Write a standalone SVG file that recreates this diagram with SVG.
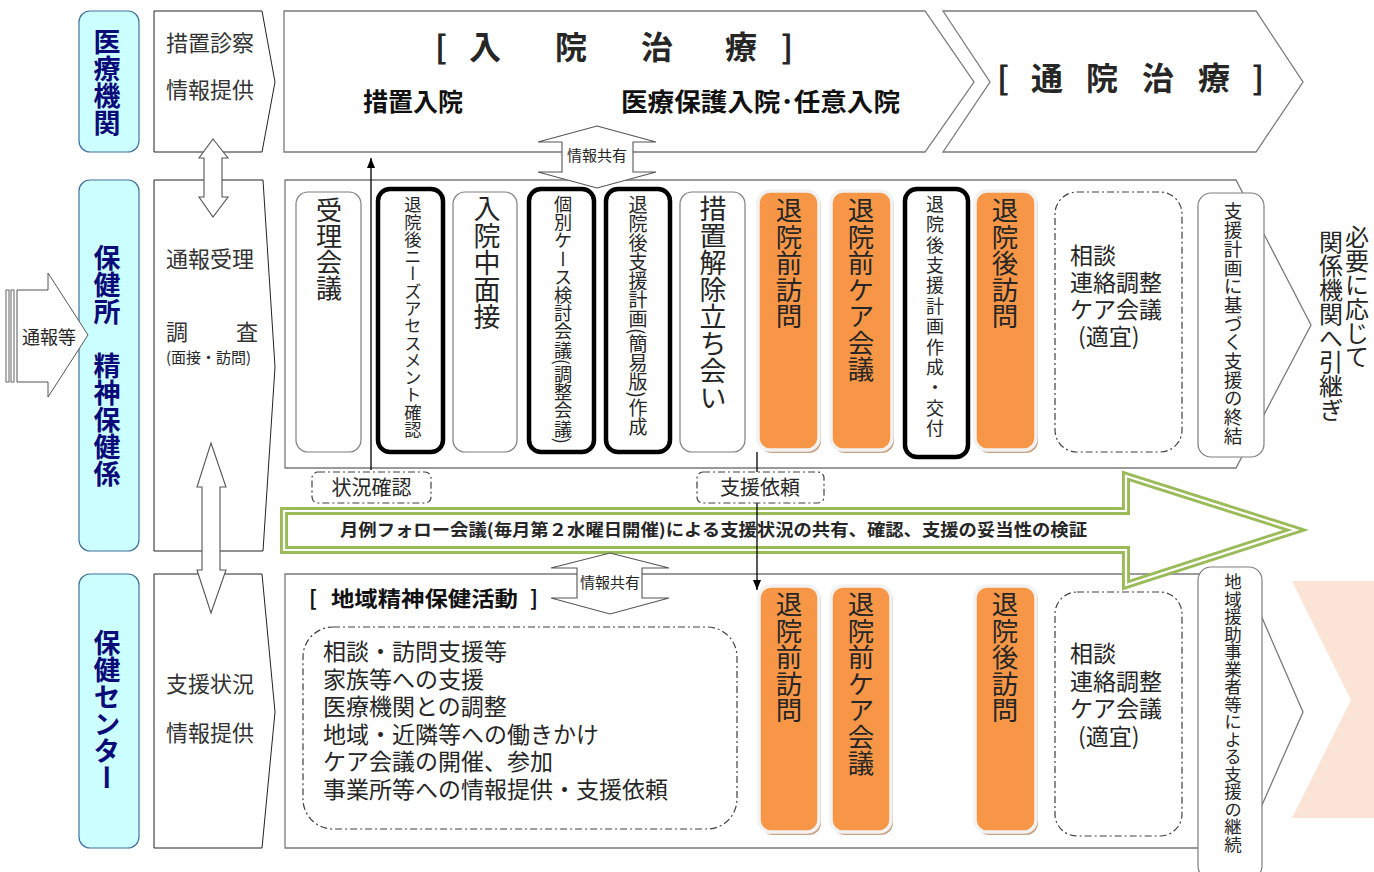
<svg xmlns="http://www.w3.org/2000/svg" width="1374" height="872" viewBox="0 0 1374 872">
<style>
text{font-family:"Noto Sans CJK JP","Noto Sans",sans-serif;fill:#262626}
.v{writing-mode:vertical-rl}
.blue{fill:#ccffff;stroke:#41719c;stroke-width:1.2}
.bl{fill:#0a0a78;font-weight:700;font-size:27px}
.col{fill:#fff;stroke:#222;stroke-width:1}
.main{fill:#fff;stroke:#7a7a7a;stroke-width:1.3}
.thin{fill:#fff;stroke:#7f7f7f;stroke-width:1.2}
.thick{fill:#fff;stroke:#000;stroke-width:4.5}
.or{fill:#f79646;stroke:#f2f2f2;stroke-width:3.5}
.sh{fill:#c9a385}
.dd{fill:#fff;stroke:#404040;stroke-width:1.2;stroke-dasharray:7 3 2 3}
.dblarrow{fill:#fff;stroke:#555;stroke-width:1.1}
.b{font-weight:700;fill:#111}
.c2{font-size:22px;fill:#333}
</style>
<defs>
<marker id="ah" markerWidth="10" markerHeight="8" refX="10" refY="4" orient="auto" markerUnits="userSpaceOnUse" viewBox="0 0 10 8">
<path d="M0,0 L10,4 L0,8 Z" fill="#000"/>
</marker>
</defs>

<!-- peach background chevron -->
<polygon points="1292,581 1374,581 1374,818 1292,818 1351,700" fill="#fbe4d6"/>

<!-- left labels -->
<g id="n-iryo">
<rect class="blue" x="79" y="11" width="60" height="141" rx="11"/>
<text class="v bl" x="107" y="28">医療機関</text>
</g>
<g id="n-hokenjo">
<rect class="blue" x="79" y="180" width="60" height="371" rx="11"/>
<text class="v bl" x="107" y="244">保健所　精神保健係</text>
</g>
<g id="n-center">
<rect class="blue" x="79" y="574" width="60" height="274" rx="11"/>
<text class="v bl" x="107" y="629">保健センター</text>
</g>

<!-- tsuho arrow -->
<g id="n-tsuho">
<rect x="6" y="290" width="3" height="92" fill="#fff" stroke="#555" stroke-width="0.9"/>
<rect x="11" y="290" width="3" height="92" fill="#fff" stroke="#555" stroke-width="0.9"/>
<polygon points="17,290 48,290 48,273 88,335 48,397 48,382 17,382" fill="#fff" stroke="#555" stroke-width="1"/>
<text x="22" y="344" font-size="18">通報等</text>
</g>

<!-- column 2 -->
<g id="n-col-top">
<polygon class="col" points="154,11 262,11 275,82 262,152 154,152"/>
<text class="c2" x="166" y="51">措置診察</text>
<text class="c2" x="166" y="98">情報提供</text>
</g>
<g id="n-col-mid">
<polygon class="col" points="154,180 263,180 275,367 263,551 154,551"/>
<text class="c2" x="166" y="267">通報受理</text>
<text class="c2" x="166" y="340">調</text>
<text class="c2" x="258" y="340" text-anchor="end">査</text>
<text x="166" y="363" font-size="15" fill="#333">(面接・訪問)</text>
</g>
<g id="n-col-bot">
<polygon class="col" points="154,574 262,574 275,712 262,848 154,848"/>
<text class="c2" x="166" y="692">支援状況</text>
<text class="c2" x="166" y="741">情報提供</text>
</g>

<!-- top row -->
<g id="n-nyuin">
<polygon class="main" points="284,11 925,11 974,82 925,152 284,152"/>
<g class="b" font-size="32" text-anchor="middle">
<text x="441" y="59">[</text>
<text x="485" y="59">入</text>
<text x="571" y="59">院</text>
<text x="657" y="59">治</text>
<text x="741" y="59">療</text>
<text x="787" y="59">]</text>
</g>
<text class="b" x="363" y="111" font-size="25">措置入院</text>
<text class="b" x="621" y="111" font-size="25" textLength="279" lengthAdjust="spacingAndGlyphs">医療保護入院･任意入院</text>
</g>
<g id="n-tsuin">
<polygon class="main" points="943,11 1256,11 1303,82 1256,152 943,152 990,82"/>
<g class="b" font-size="32" text-anchor="middle">
<text x="1003" y="90">[</text>
<text x="1047" y="90">通</text>
<text x="1102" y="90">院</text>
<text x="1158" y="90">治</text>
<text x="1214" y="90">療</text>
<text x="1258" y="90">]</text>
</g>
</g>

<!-- middle main box -->
<g id="n-mid-box">
<polygon class="main" points="285,180 1236,180 1311,325 1236,468 285,468"/>
</g>
<!-- bottom main box -->
<g id="n-bot-box">
<polygon class="main" points="285,574 1243,574 1303,712 1243,848 285,848"/>
</g>

<!-- middle row nodes -->
<g id="n-juri">
<rect class="thin" x="296" y="192" width="65" height="260" rx="12"/>
<text class="v" x="329" y="197" font-size="26">受理会議</text>
</g>
<g id="n-needs">
<rect class="thick" x="378" y="189" width="65" height="263" rx="12"/>
<text class="v" x="413" y="196" font-size="17.3">退院後ニーズアセスメント確認</text>
</g>
<g id="n-mensetsu">
<rect class="thin" x="453" y="192" width="64" height="260" rx="12"/>
<text class="v" x="487" y="195" font-size="27">入院中面接</text>
</g>
<g id="n-kobetsu">
<rect class="thick" x="529" y="189" width="65" height="263" rx="12"/>
<text class="v" x="563" y="195" font-size="18.2">個別ケース検討会議(調整会議)</text>
</g>
<g id="n-keikaku">
<rect class="thick" x="606" y="189" width="64" height="263" rx="12"/>
<text class="v" x="638" y="195" font-size="19">退院後支援計画(簡易版)作成</text>
</g>
<g id="n-kaijo">
<rect class="thin" x="680" y="192" width="65" height="260" rx="12"/>
<text class="v" x="713" y="195" font-size="27">措置解除立ち会い</text>
</g>
<g id="n-zen-houmon">
<rect class="sh" x="760" y="193" width="61" height="260" rx="12"/>
<rect class="or" x="758" y="191" width="61" height="259" rx="12"/>
<text class="v" x="789" y="197" font-size="26.5">退院前訪問</text>
</g>
<g id="n-zen-care">
<rect class="sh" x="833" y="193" width="61" height="260" rx="12"/>
<rect class="or" x="831" y="191" width="61" height="259" rx="12"/>
<text class="v" x="861" y="197" font-size="26.5">退院前ケア会議</text>
</g>
<g id="n-sakusei">
<rect class="thick" x="905" y="189" width="63" height="268" rx="12"/>
<text class="v" x="935" y="195" font-size="18" letter-spacing="2.4">退院後支援計画作成・交付</text>
</g>
<g id="n-go-houmon">
<rect class="sh" x="977" y="193" width="61" height="260" rx="12"/>
<rect class="or" x="975" y="191" width="61" height="259" rx="12"/>
<text class="v" x="1005" y="197" font-size="26.5">退院後訪問</text>
</g>
<g id="n-soudan1">
<rect class="dd" x="1055" y="192" width="127" height="260" rx="22"/>
<g font-size="23">
<text x="1070" y="264">相談</text>
<text x="1070" y="291">連絡調整</text>
<text x="1070" y="318" fill="#111">ケア会議</text>
<text x="1078" y="345">(適宜)</text>
</g>
</g>
<g id="n-shuketsu">
<rect class="thin" x="1198" y="193" width="66" height="264" rx="13"/>
<text class="v" x="1233" y="202" font-size="18.7">支援計画に基づく支援の終結</text>
</g>
<g id="n-hikitsugi">
<text class="v" x="1357" y="225" font-size="24">必要に応じて</text>
<text class="v" x="1331" y="230" font-size="24">関係機関へ引継ぎ</text>
</g>

<!-- bottom row nodes -->
<g id="n-chiiki">
<text class="b" x="309" y="606" font-size="21">[</text>
<text class="b" x="331" y="606" font-size="21" textLength="187" lengthAdjust="spacingAndGlyphs">地域精神保健活動</text>
<text class="b" x="530" y="606" font-size="21">]</text>
<rect class="dd" x="303" y="627" width="434" height="202" rx="30"/>
<g font-size="23">
<text x="323" y="660">相談・訪問支援等</text>
<text x="323" y="688">家族等への支援</text>
<text x="323" y="715">医療機関との調整</text>
<text x="323" y="743">地域・近隣等への働きかけ</text>
<text x="323" y="770">ケア会議の開催、参加</text>
<text x="323" y="798">事業所等への情報提供・支援依頼</text>
</g>
</g>
<g id="n-b-zen-houmon">
<rect class="sh" x="761" y="588" width="60" height="247" rx="12"/>
<rect class="or" x="759" y="586" width="60" height="246" rx="12"/>
<text class="v" x="789" y="591" font-size="26.5">退院前訪問</text>
</g>
<g id="n-b-zen-care">
<rect class="sh" x="833" y="588" width="60" height="247" rx="12"/>
<rect class="or" x="831" y="586" width="60" height="246" rx="12"/>
<text class="v" x="861" y="591" font-size="26.5">退院前ケア会議</text>
</g>
<g id="n-b-go-houmon">
<rect class="sh" x="977" y="588" width="61" height="247" rx="12"/>
<rect class="or" x="975" y="586" width="61" height="246" rx="12"/>
<text class="v" x="1005" y="591" font-size="26.5">退院後訪問</text>
</g>
<g id="n-soudan2">
<rect class="dd" x="1055" y="592" width="127" height="244" rx="22"/>
<g font-size="23">
<text x="1070" y="662">相談</text>
<text x="1070" y="690">連絡調整</text>
<text x="1070" y="717" fill="#111">ケア会議</text>
<text x="1078" y="745">(適宜)</text>
</g>
</g>

<!-- connectors -->
<g id="connectors">
<path d="M284,511 H1126 V476 L1296,530 L1126,585 V550 H284 Z" fill="none" stroke="#9bbb59" stroke-width="8"/>
<path d="M284,511 H1126 V476 L1296,530 L1126,585 V550 H284 Z" fill="none" stroke="#fff" stroke-width="2.2"/>
<text x="340" y="536" font-size="17" font-weight="700" fill="#111" textLength="747" lengthAdjust="spacingAndGlyphs">月例フォロー会議(毎月第２水曜日開催)による支援状況の共有、確認、支援の妥当性の検証</text>

<line x1="371" y1="470" x2="371" y2="158" stroke="#000" stroke-width="1.3" marker-end="url(#ah)"/>
<line x1="757" y1="452" x2="757" y2="590" stroke="#000" stroke-width="1.3" marker-end="url(#ah)"/>

<!-- double arrows -->
<polygon class="dblarrow" points="213,139 228,158 222,158 222,197 228,197 213,217 199,197 204,197 204,158 199,158"/>
<polygon class="dblarrow" points="211,443 226,487 220,487 220,570 226,570 211,613 197,570 202,570 202,487 197,487"/>
<polygon class="dblarrow" points="597,126 656,142 633,142 633,172 656,172 597,188 538,172 562,172 562,142 538,142"/>
<text x="597" y="161" font-size="15" text-anchor="middle" fill="#222">情報共有</text>
<polygon class="dblarrow" points="610,553 669,568 642,568 642,598 669,598 610,614 551,598 577,598 577,568 551,568"/>
<text x="610" y="588" font-size="15" text-anchor="middle" fill="#222">情報共有</text>
</g>

<g id="n-jokyo">
<rect class="dd" x="312" y="472" width="119" height="31" rx="6"/>
<text x="371.5" y="495" font-size="20" text-anchor="middle">状況確認</text>
</g>
<g id="n-irai">
<rect class="dd" x="697" y="472" width="127" height="31" rx="6"/>
<text x="760" y="495" font-size="20" text-anchor="middle">支援依頼</text>
</g>

<g id="n-keizoku">
<rect class="thin" x="1198" y="567" width="64" height="312" rx="13"/>
<text class="v" x="1233" y="573" font-size="17.5">地域援助事業者等による支援の継続</text>
</g>
</svg>
